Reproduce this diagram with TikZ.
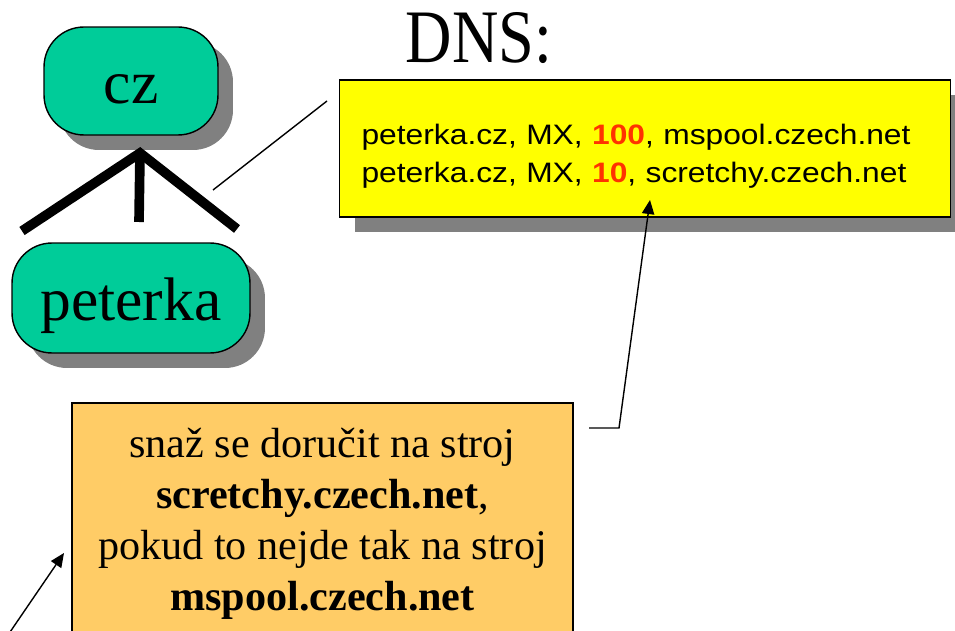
\documentclass[tikz,border=0pt]{standalone}
\usepackage{fontspec}
\setmainfont{Liberation Serif}
\setsansfont{Liberation Sans}[FakeStretch=1.13]
\newfontfamily\dnsfont{Liberation Serif}[FakeStretch=0.85]
\usetikzlibrary{shadows,arrows.meta}
\definecolor{domgreen}{RGB}{0,204,153}
\definecolor{mxyellow}{RGB}{255,255,0}
\definecolor{ruleorange}{RGB}{255,204,102}
\definecolor{prired}{RGB}{255,51,0}
\begin{document}
\begin{tikzpicture}[x=0.02cm, y=-0.02cm,
    grayshadow/.style={drop shadow={shadow xshift=0.3cm, shadow yshift=-0.3cm, fill=black!50, opacity=1}},
    domnode/.style={draw, fill=domgreen, line width=0.8pt, rounded corners=0.8cm, grayshadow, font=\fontsize{35}{40}\selectfont, text height=26pt, text depth=0pt},
    mxbox/.style={draw, fill=mxyellow, line width=0.8pt, grayshadow, font=\sffamily\fontsize{16}{21.5}\selectfont, align=left, text width=11.34cm, inner xsep=0.44cm, minimum height=2.74cm},
    rulebox/.style={draw, fill=ruleorange, line width=0.8pt, font=\fontsize{24}{29}\selectfont, align=center, minimum width=10.02cm, minimum height=4.82cm},
    branch/.style={line width=5.5pt, miter limit=10},
    arr/.style={-{Triangle[length=8pt,width=7pt]}, line width=0.8pt}]
    \useasboundingbox (0,0) rectangle (955,631);
    \clip (0,0) rectangle (955,631);

    \node[anchor=base, font=\dnsfont\fontsize{43}{48}\selectfont] (dns) at (479,63) {DNS:};
    \node[domnode, minimum width=3.48cm, minimum height=2.16cm] (cz) at (131,81) {cz};
    \node[domnode, minimum width=4.76cm, minimum height=2.2cm] (peterka) at (131,298) {peterka};
    \node[mxbox] (mx) at (645,148.5) {\rule{0pt}{20pt}peterka.cz, MX, \textcolor{prired}{\textbf{100}}, mspool.czech.net\\peterka.cz, MX, \textcolor{prired}{\textbf{10}}, scretchy.czech.net};
    \node[rulebox] (rule) at (322.5,523.5) {snaž se doručit na stroj\\\textbf{scretchy.czech.net},\\pokud to nejde tak na stroj\\\textbf{mspool.czech.net}};

    \coordinate (apex) at (140,153);
    \coordinate (bl) at (22,231);
    \coordinate (bm) at (139,222);
    \coordinate (br) at (237,229);
    \coordinate (l1) at (213,190);
    \coordinate (l2) at (327,101);
    \coordinate (c1) at (589,428);
    \coordinate (c2) at (619,428);
    \coordinate (t1) at (650,200);
    \coordinate (b1) at (8,635);
    \coordinate (b2) at (64,553);

    \draw[branch] (bl) -- (apex) -- (br);
    \draw[branch] (apex) -- (bm);
    \draw[line width=0.8pt] (l1) -- (l2);
    \draw[arr] (c1) -- (c2) -- (t1);
    \draw[arr] (b1) -- (b2);
\end{tikzpicture}
\end{document}
